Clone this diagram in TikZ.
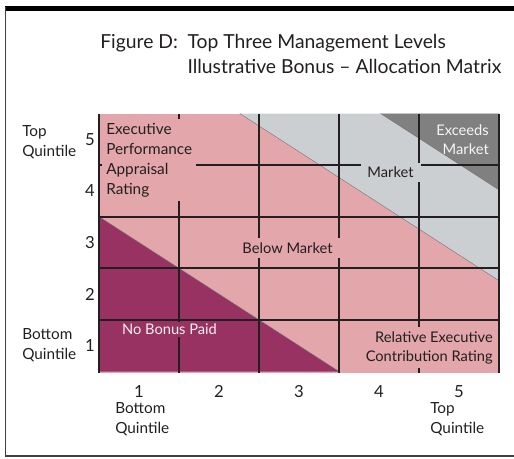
\documentclass[tikz,border=0pt]{standalone}
\usepackage{fontspec}
\setmainfont{Lato}
\usetikzlibrary{positioning}

\definecolor{ratepink}{RGB}{227,166,170}
\definecolor{nobonus}{RGB}{152,50,98}
\definecolor{mktgrey}{RGB}{204,207,209}
\definecolor{exgrey}{RGB}{128,128,128}
\definecolor{inkblack}{RGB}{35,31,32}

\def\cellw{80}
\def\cellh{51.6}

\begin{document}
\begin{tikzpicture}[x=0.75pt,y=0.75pt,text=inkblack]
    \tikzstyle{gridline}=[draw=inkblack,line width=1.3pt]
    \tikzstyle{diagline}=[draw=black!55,line width=0.3pt]
    \tikzstyle{title}=[font=\fontsize{14.5}{18}\selectfont,inner sep=0pt]
    \tikzstyle{axisnum}=[font=\fontsize{12.5}{15}\selectfont,inner sep=0pt]
    \tikzstyle{quintile}=[font=\fontsize{11.5}{15}\selectfont,align=left,anchor=base west,inner sep=0pt]
    \tikzstyle{celltext}=[font=\fontsize{11}{14.5}\selectfont,inner sep=3pt]

    \useasboundingbox (-99,-86.5) rectangle (415,371.5);

    %%% DRAW THE FRAME
    \draw[line width=3.75pt] (-94,362.5) -- (420,362.5);
    \draw[black!75,line width=1.1pt] (-93.5,364) -- (-93.5,-84.5) -- (420,-84.5);

    %%% DRAW THE BANDS
    \fill[ratepink] (0,-1.5) rectangle (5*\cellw,5*\cellh);
    \fill[nobonus] (0,0) -- (0,3*\cellh) -- (3*\cellw,0) -- cycle;
    \fill[mktgrey] (1.76*\cellw,5*\cellh) -- (5*\cellw,5*\cellh) -- (5*\cellw,1.76*\cellh) -- cycle;
    \fill[exgrey] (3.52*\cellw,5*\cellh) -- (5*\cellw,5*\cellh) -- (5*\cellw,3.52*\cellh) -- cycle;
    \draw[diagline] (0,3*\cellh) -- (3*\cellw,0);
    \draw[diagline] (1.76*\cellw,5*\cellh) -- (5*\cellw,1.76*\cellh);
    \draw[diagline] (3.52*\cellw,5*\cellh) -- (5*\cellw,3.52*\cellh);

    %%% DRAW THE GRID
    \foreach \x in {0,...,5}
        \draw[gridline] (\x*\cellw,-1.5) -- (\x*\cellw,5*\cellh);
    \foreach \y in {1,...,4}
        \draw[gridline] (0,\y*\cellh) -- (5*\cellw,\y*\cellh);

    %%% AXES
    \foreach \y in {1,...,5}
        \node[axisnum] (R-\y) at (-9,{(\y-0.5)*\cellh}) {\y};
    \foreach \x in {1,...,5}
        \node[axisnum,anchor=base] (C-\x) at ({(\x-0.5)*\cellw},-26) {\x};

    % multi-line nodes sit on the baseline of their last line
    \node[quintile] (ytop) at (-77,215.5) {Top\\Quintile};
    \node[quintile] (ybot) at (-77,12.5) {Bottom\\Quintile};
    \node[quintile] (xbot) at (16,-61.5) {Bottom\\Quintile};
    \node[quintile] (xtop) at (331,-61.5) {Top\\Quintile};

    %%% LABEL THE BANDS
    \node[celltext,font=\fontsize{11.5}{15}\selectfont,fill=ratepink,align=left,anchor=north west] (perf) at (3,253) {Executive\\Performance\\Appraisal\\Rating};
    \node[celltext,fill=mktgrey,minimum width=45pt,minimum height=13.5pt] (mkt) at (291.5,199) {Market};
    \node[celltext,fill=ratepink,minimum width=81pt,minimum height=15pt] (below) at (188.5,123.5) {Below Market};
    \node[celltext,fill=nobonus,text=white!92!nobonus,inner ysep=1.5pt,minimum width=72pt] (nopaid) at (70.5,42) {No Bonus Paid};
    \node[celltext,fill=ratepink,align=right,anchor=north east] (contrib) at (398,44.5) {Relative Executive\\Contribution Rating};
    \node[celltext,text=white!92!exgrey,align=right,anchor=north east,inner sep=0pt] (exceeds) at (390,247.5) {Exceeds\\Market};

    %%% TITLE
    \node[title,anchor=base west] (figd) at (1,323) {Figure D:};
    \node[title,right=6.75pt of figd.base east,anchor=base west] (ttl-1) {Top Three Management Levels};
    \node[title,below=18.4pt of ttl-1.base west,anchor=base west] (ttl-2) {Illustrative Bonus -- Allocation Matrix};

\end{tikzpicture}
\end{document}
